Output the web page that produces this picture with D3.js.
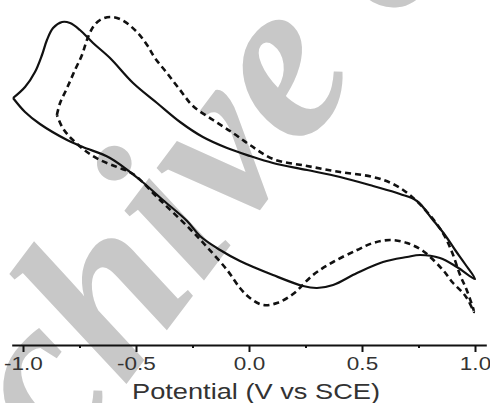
<!DOCTYPE html>
<html>
<head>
<meta charset="utf-8">
<script src="https://cdn.jsdelivr.net/npm/d3@7"></script>
<style>
  body { margin: 0; background: #fff; }
  svg { display: block; }
</style>
</head>
<body>
<svg></svg>
<script>
// Potential (V vs SCE) and current (a.u.)
const solidV = [-1.044, -0.991, -0.947, -0.916, -0.894, -0.867, -0.827, -0.792, -0.748, -0.690,
  -0.615, -0.513, -0.407, -0.305, -0.204, -0.097, 0.004, 0.106, 0.257, 0.403,
  0.549, 0.668, 0.743, 0.814, 0.867, 0.912, 0.956, 1.000,
  0.920, 0.845, 0.757, 0.699, 0.593, 0.478, 0.372, 0.301, 0.239, 0.106,
  -0.040, -0.128, -0.217, -0.274, -0.381, -0.482, -0.615, -0.735, -0.805, -0.925, -0.991, -1.044];
const solidI = [18.0, 20.75, 24.5, 28.75, 32.5, 35.5, 37.0, 36.75, 35.0, 31.75,
  28.0, 21.75, 16.75, 12.0, 8.25, 5.5, 3.5, 1.75, 0, -1.75,
  -4.0, -6.0, -7.75, -12.5, -16.25, -20.0, -23.5, -27.25,
  -24.25, -22.0, -21.25, -21.75, -23.0, -25.75, -28.75, -29.5, -29.0, -26.25,
  -22.75, -20.0, -16.5, -12.75, -7.5, -2.5, 3.0, 5.75, 7.5, 11.5, 14.5, 18.0];

const dashV = [-0.850, -0.836, -0.805, -0.770, -0.739, -0.717, -0.690, -0.659, -0.615, -0.562,
  -0.496, -0.451, -0.416, -0.363, -0.305, -0.248, -0.159, -0.071, 0.004, 0.106,
  0.257, 0.403, 0.549, 0.637, 0.712, 0.788, 0.858, 0.898, 0.934, 0.965, 0.996,
  0.969, 0.947, 0.903, 0.858, 0.770, 0.699, 0.624, 0.549, 0.478, 0.372, 0.283,
  0.195, 0.124, 0.062, 0.004, -0.040, -0.097, -0.186, -0.261, -0.394, -0.513,
  -0.584, -0.659, -0.717, -0.770, -0.801, -0.827, -0.850];
const dashI = [13.75, 16.75, 20.5, 25.0, 28.75, 32.5, 35.75, 37.5, 38.25, 37.5,
  34.5, 31.25, 28.0, 24.25, 20.0, 16.0, 12.5, 9.25, 6.25, 2.75,
  1.0, -0.5, -1.75, -3.5, -6.25, -10.5, -15.75, -20.5, -26.25, -30.25, -35.5,
  -32.5, -30.75, -28.25, -25.0, -20.25, -18.25, -17.5, -18.25, -20.0, -23.0, -26.25,
  -31.0, -33.25, -33.75, -32.0, -29.5, -25.0, -19.25, -14.75, -7.5, -1.0,
  0.75, 2.5, 4.5, 7.0, 8.75, 10.75, 13.75];

const majorTicks = [-1.0, -0.5, 0.0, 0.5, 1.0];
const majorLabels = ["-1.0", "-0.5", "0.0", "0.5", "1.0"];
const minorTicks = [-0.75, -0.25, 0.25, 0.75];
const xTitle = "Potential (V vs SCE)";
const watermark = "Archive of SID";

const W = 490, H = 403;
const svg = d3.select("svg").attr("width", W).attr("height", H);

const xScale = d3.scaleLinear().domain([-1.05, 1.05]).range([11.7, 486.3]);
const yScale = d3.scaleLinear().domain([-40, 40]).range([330, 10]);
const axisY = 345;

// watermark behind everything
svg.append("text")
  .attr("transform", "translate(-84,663) rotate(-53)")
  .attr("font-family", "'Liberation Serif', serif")
  .attr("font-weight", "bold")
  .attr("font-style", "italic")
  .attr("font-size", 230)
  .attr("fill", "#c8c8c8")
  .text(watermark);

const line = d3.line()
  .x(d => xScale(d[0]))
  .y(d => yScale(d[1]))
  .curve(d3.curveCatmullRom.alpha(0.5));

const solid = d3.zip(solidV, solidI);
const dashed = d3.zip(dashV, dashI);

svg.append("path")
  .datum(dashed)
  .attr("d", line)
  .attr("fill", "none")
  .attr("stroke", "#111")
  .attr("stroke-width", 2.6)
  .attr("stroke-dasharray", "6,4");

svg.append("path")
  .datum(solid)
  .attr("d", line)
  .attr("fill", "none")
  .attr("stroke", "#111")
  .attr("stroke-width", 2.2);

// x axis
const stretch = 1.25;
const xAxis = svg.append("g")
  .attr("transform", `translate(0, ${axisY})`)
  .call(d3.axisBottom(xScale)
    .tickValues(majorTicks)
    .tickFormat((d, i) => majorLabels[i])
    .tickSize(7)
    .tickSizeOuter(0)
    .tickPadding(5));

xAxis.select(".domain").attr("stroke", "#111").attr("stroke-width", 2.2);
xAxis.selectAll(".tick line").attr("stroke", "#111").attr("stroke-width", 2);
xAxis.selectAll(".tick text")
  .attr("font-family", "'Liberation Sans', Arial, sans-serif")
  .attr("font-size", 18)
  .attr("fill", "#333")
  .attr("lengthAdjust", "spacingAndGlyphs")
  .attr("textLength", function() { return this.getComputedTextLength() * stretch; });

svg.append("g")
  .attr("transform", `translate(0, ${axisY})`)
  .call(d3.axisBottom(xScale).tickValues(minorTicks).tickFormat("").tickSize(3).tickSizeOuter(0))
  .call(g => g.select(".domain").remove())
  .selectAll(".tick line").attr("stroke", "#111").attr("stroke-width", 2);

svg.append("text")
  .attr("x", 256)
  .attr("y", 399)
  .attr("text-anchor", "middle")
  .attr("font-family", "'Liberation Sans', Arial, sans-serif")
  .attr("font-size", 22)
  .attr("fill", "#333")
  .attr("lengthAdjust", "spacingAndGlyphs")
  .attr("textLength", 248)
  .text(xTitle);
</script>
</body>
</html>
